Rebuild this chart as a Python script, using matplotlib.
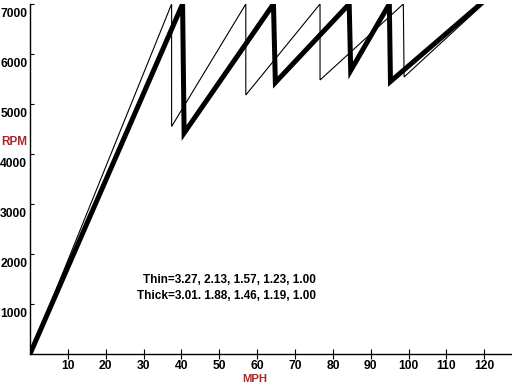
import matplotlib
matplotlib.use("Agg")
from matplotlib import pyplot as plt
from matplotlib.transforms import ScaledTranslation

# thin line: ratios 3.27, 2.13, 1.57, 1.23, 1.00
thin_mph = [0, 37.4, 37.4, 57.0, 57.0, 76.6, 76.6, 98.6, 98.8, 119.0]
thin_rpm = [0, 7000, 4550, 7000, 5180, 7000, 5480, 7000, 5540, 6950]

# thick line: ratios 3.01, 1.88, 1.46, 1.19, 1.00
thick_mph = [0, 40.3, 40.7, 64.3, 64.8, 84.3, 84.7, 94.9, 95.2, 119.0]
thick_rpm = [0, 7000, 4420, 7000, 5430, 7000, 5670, 7000, 5450, 7000]

x_ticks = [10, 20, 30, 40, 50, 60, 70, 80, 90, 100, 110, 120]
y_ticks = [1000, 2000, 3000, 4000, 5000, 6000, 7000]

note = "Thin=3.27, 2.13, 1.57, 1.23, 1.00\nThick=3.01. 1.88, 1.46, 1.19, 1.00"

plt.rcParams['font.family'] = ['Liberation Sans', 'DejaVu Sans']
fig = plt.figure(figsize=(5.12, 3.84), dpi=100)
ax = fig.add_axes([30/512, 30/384, 482/512, 350/384])

ax.plot(thin_mph, thin_rpm, color='black', lw=0.8, solid_joinstyle='miter')
ax.plot(thick_mph, thick_rpm, color='black', lw=3.6, solid_joinstyle='miter')

ax.set_xlim(0, 127.3)
ax.set_ylim(0, 7000)
ax.spines['top'].set_visible(False)
ax.spines['right'].set_visible(False)
ax.spines['left'].set_linewidth(1.0)
ax.spines['bottom'].set_linewidth(1.0)

ax.set_xticks(x_ticks)
ax.set_yticks(y_ticks)
ax.tick_params(axis='x', direction='inout', length=7, width=0.8, pad=0.5,
               labelsize=8.7)
ax.tick_params(axis='y', direction='in', length=3, width=0.8, pad=2,
               labelsize=8.7)
for lab in ax.get_xticklabels() + ax.get_yticklabels():
    lab.set_fontweight('bold')
for lab in ax.get_yticklabels():
    lab.set_transform(lab.get_transform() +
                      ScaledTranslation(0, -0.085, fig.dpi_scale_trans))

fig.text(255/512, 1 - 378.5/384, "MPH", color='#a8282a', fontsize=8.2,
         fontweight='bold', ha='center', va='center')
fig.text(1/512, 1 - 142/384, "RPM", color='#a8282a', fontsize=8.5,
         fontweight='bold', ha='left', va='center')
fig.text(316/512, 1 - 288/384, note, fontsize=8.5, fontweight='bold',
         ha='right', va='center', multialignment='right', linespacing=1.45)

fig.savefig("out.png", dpi=100)
